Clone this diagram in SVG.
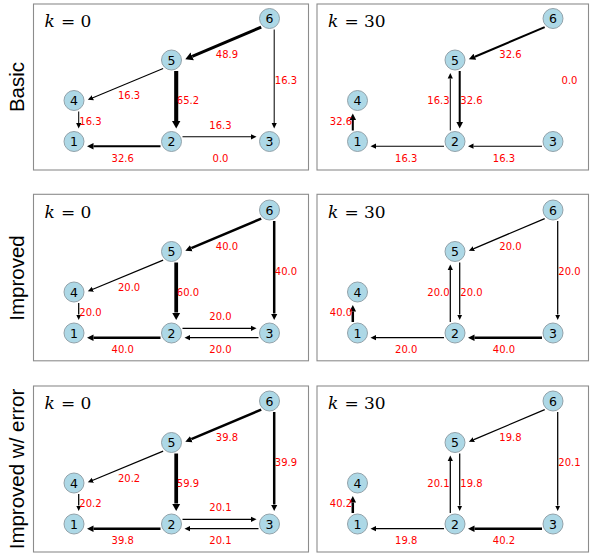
<svg xmlns="http://www.w3.org/2000/svg" width="590" height="556" viewBox="0 0 590 556">
<style>
.frame{fill:#fff;stroke:#8c8c8c;stroke-width:1.1}
.e{stroke:#000;fill:none;stroke-linecap:butt}
.lbl{font-family:"DejaVu Sans",sans-serif;font-size:10px;fill:#ff0000;text-anchor:middle}
.node circle{fill:#add8e6;stroke:#8a9aa2;stroke-width:0.9}
.node text{font-family:"DejaVu Sans",sans-serif;font-size:12.5px;fill:#000;text-anchor:middle}
.k{font-family:"DejaVu Serif",serif;font-size:17px;fill:#000}
.row{font-family:"Liberation Sans",Arial,sans-serif;font-size:20.5px;fill:#000;text-anchor:middle}
</style>
<defs>
<marker id="a1" markerUnits="userSpaceOnUse" viewBox="0 -5 10 10" markerWidth="10" markerHeight="10" refX="0" refY="0" orient="auto"><path d="M0,-2.6 L5.5,0 L0,2.6 Z" fill="#000"/></marker>
<marker id="a2" markerUnits="userSpaceOnUse" viewBox="0 -5 10 10" markerWidth="10" markerHeight="10" refX="0" refY="0" orient="auto"><path d="M0,-3.3 L6.5,0 L0,3.3 Z" fill="#000"/></marker>
<marker id="a3" markerUnits="userSpaceOnUse" viewBox="0 -5 10 10" markerWidth="10" markerHeight="10" refX="0" refY="0" orient="auto"><path d="M0,-4.2 L7.5,0 L0,4.2 Z" fill="#000"/></marker>
</defs>
<rect width="590" height="556" fill="#fff"/>

<text class="row" transform="translate(24,87) rotate(-90)">Basic</text>
<text class="row" transform="translate(24,278) rotate(-90)">Improved</text>
<text class="row" transform="translate(24,469) rotate(-90)">Improved w/ error</text>

<!-- Row 1 left: Basic k=0 -->
<g id="basic-k0" transform="translate(0,0)">
<rect class="frame" x="33.5" y="4" width="275" height="166"/>
<text class="k" x="44.5" y="26.5"><tspan font-style="italic">k</tspan><tspan x="61">=</tspan><tspan x="80.5">0</tspan></text>
<g id="basic-k0-edges">
<line class="e" x1="261.2" y1="27.1" x2="192.21" y2="56.34" stroke-width="3.06" marker-end="url(#a3)"/>
<line class="e" x1="274.2" y1="29.5" x2="274.2" y2="123" stroke-width="1.02" marker-end="url(#a1)"/>
<line class="e" x1="163.14" y1="68.56" x2="92.89" y2="97.74" stroke-width="1.02" marker-end="url(#a1)"/>
<line class="e" x1="176.2" y1="71" x2="176.2" y2="121" stroke-width="4.08" marker-end="url(#a3)"/>
<line class="e" x1="78.7" y1="111.5" x2="78.7" y2="123" stroke-width="1.02" marker-end="url(#a1)"/>
<line class="e" x1="182.5" y1="136.8" x2="251" y2="136.8" stroke-width="1.02" marker-end="url(#a1)"/>
<line class="e" x1="160.5" y1="146.2" x2="93.5" y2="146.2" stroke-width="2.04" marker-end="url(#a2)"/>
<text class="lbl" x="226.9" y="58">48.9</text>
<text class="lbl" x="286" y="83.6">16.3</text>
<text class="lbl" x="129.1" y="99.1">16.3</text>
<text class="lbl" x="188" y="104.3">65.2</text>
<text class="lbl" x="90.5" y="124.6">16.3</text>
<text class="lbl" x="220.5" y="128.6">16.3</text>
<text class="lbl" x="122.75" y="161.6">32.6</text>
<text class="lbl" x="220.5" y="161.6">0.0</text>
</g>
<g id="basic-k0-n1" class="node"><circle cx="74" cy="141.5" r="10"/><text x="74" y="146">1</text></g>
<g id="basic-k0-n2" class="node"><circle cx="171.5" cy="141.5" r="10"/><text x="171.5" y="146">2</text></g>
<g id="basic-k0-n3" class="node"><circle cx="269.5" cy="141.5" r="10"/><text x="269.5" y="146">3</text></g>
<g id="basic-k0-n4" class="node"><circle cx="74" cy="100.5" r="10"/><text x="74" y="105">4</text></g>
<g id="basic-k0-n5" class="node"><circle cx="171.5" cy="60" r="10"/><text x="171.5" y="64.5">5</text></g>
<g id="basic-k0-n6" class="node"><circle cx="269.5" cy="18.5" r="10"/><text x="269.5" y="23">6</text></g>
</g>

<!-- Row 1 right: Basic k=30 -->
<g id="basic-k30" transform="translate(283.5,0)">
<rect class="frame" x="33.5" y="4" width="271.5" height="166"/>
<text class="k" x="44.5" y="26.5"><tspan font-style="italic">k</tspan><tspan x="61">=</tspan><tspan x="80.5">30</tspan></text>
<g id="basic-k30-edges">
<line class="e" x1="261.2" y1="27.1" x2="191.29" y2="56.72" stroke-width="2.04" marker-end="url(#a2)"/>
<line class="e" x1="166.8" y1="130.5" x2="166.8" y2="78.5" stroke-width="1.02" marker-end="url(#a1)"/>
<line class="e" x1="176.2" y1="71" x2="176.2" y2="122" stroke-width="2.04" marker-end="url(#a2)"/>
<line class="e" x1="69.3" y1="130.5" x2="69.3" y2="120" stroke-width="2.04" marker-end="url(#a2)"/>
<line class="e" x1="160.5" y1="146.2" x2="92.5" y2="146.2" stroke-width="1.02" marker-end="url(#a1)"/>
<line class="e" x1="258.5" y1="146.2" x2="190" y2="146.2" stroke-width="1.02" marker-end="url(#a1)"/>
<text class="lbl" x="226.9" y="58">32.6</text>
<text class="lbl" x="286" y="83.6">0.0</text>
<text class="lbl" x="155" y="104.3">16.3</text>
<text class="lbl" x="188" y="104.3">32.6</text>
<text class="lbl" x="57.5" y="124.6">32.6</text>
<text class="lbl" x="122.75" y="161.6">16.3</text>
<text class="lbl" x="220.5" y="161.6">16.3</text>
</g>
<g id="basic-k30-n1" class="node"><circle cx="74" cy="141.5" r="10"/><text x="74" y="146">1</text></g>
<g id="basic-k30-n2" class="node"><circle cx="171.5" cy="141.5" r="10"/><text x="171.5" y="146">2</text></g>
<g id="basic-k30-n3" class="node"><circle cx="269.5" cy="141.5" r="10"/><text x="269.5" y="146">3</text></g>
<g id="basic-k30-n4" class="node"><circle cx="74" cy="100.5" r="10"/><text x="74" y="105">4</text></g>
<g id="basic-k30-n5" class="node"><circle cx="171.5" cy="60" r="10"/><text x="171.5" y="64.5">5</text></g>
<g id="basic-k30-n6" class="node"><circle cx="269.5" cy="18.5" r="10"/><text x="269.5" y="23">6</text></g>
</g>

<!-- Row 2 left: Improved k=0 -->
<g id="improved-k0" transform="translate(0,191.5)">
<rect class="frame" x="33.5" y="2.8" width="275" height="166.5"/>
<text class="k" x="44.5" y="26"><tspan font-style="italic">k</tspan><tspan x="61">=</tspan><tspan x="80.5">0</tspan></text>
<g id="improved-k0-edges">
<line class="e" x1="261.2" y1="27.1" x2="191.29" y2="56.72" stroke-width="2.5" marker-end="url(#a2)"/>
<line class="e" x1="274.2" y1="29.5" x2="274.2" y2="122" stroke-width="2.5" marker-end="url(#a2)"/>
<line class="e" x1="163.14" y1="68.56" x2="92.89" y2="97.74" stroke-width="1.25" marker-end="url(#a1)"/>
<line class="e" x1="176.2" y1="71" x2="176.2" y2="121" stroke-width="3.75" marker-end="url(#a3)"/>
<line class="e" x1="78.7" y1="111.5" x2="78.7" y2="123" stroke-width="1.25" marker-end="url(#a1)"/>
<line class="e" x1="182.5" y1="136.8" x2="251" y2="136.8" stroke-width="1.25" marker-end="url(#a1)"/>
<line class="e" x1="258.5" y1="146.2" x2="190" y2="146.2" stroke-width="1.25" marker-end="url(#a1)"/>
<line class="e" x1="160.5" y1="146.2" x2="93.5" y2="146.2" stroke-width="2.5" marker-end="url(#a2)"/>
<text class="lbl" x="226.9" y="58">40.0</text>
<text class="lbl" x="286" y="83.6">40.0</text>
<text class="lbl" x="129.1" y="99.1">20.0</text>
<text class="lbl" x="188" y="104.3">60.0</text>
<text class="lbl" x="90.5" y="124.6">20.0</text>
<text class="lbl" x="220.5" y="128.6">20.0</text>
<text class="lbl" x="220.5" y="161.6">20.0</text>
<text class="lbl" x="122.75" y="161.6">40.0</text>
</g>
<g id="improved-k0-n1" class="node"><circle cx="74" cy="141.5" r="10"/><text x="74" y="146">1</text></g>
<g id="improved-k0-n2" class="node"><circle cx="171.5" cy="141.5" r="10"/><text x="171.5" y="146">2</text></g>
<g id="improved-k0-n3" class="node"><circle cx="269.5" cy="141.5" r="10"/><text x="269.5" y="146">3</text></g>
<g id="improved-k0-n4" class="node"><circle cx="74" cy="100.5" r="10"/><text x="74" y="105">4</text></g>
<g id="improved-k0-n5" class="node"><circle cx="171.5" cy="60" r="10"/><text x="171.5" y="64.5">5</text></g>
<g id="improved-k0-n6" class="node"><circle cx="269.5" cy="18.5" r="10"/><text x="269.5" y="23">6</text></g>
</g>

<!-- Row 2 right: Improved k=30 -->
<g id="improved-k30" transform="translate(283.5,191.5)">
<rect class="frame" x="33.5" y="2.8" width="271.5" height="166.5"/>
<text class="k" x="44.5" y="26"><tspan font-style="italic">k</tspan><tspan x="61">=</tspan><tspan x="80.5">30</tspan></text>
<g id="improved-k30-edges">
<line class="e" x1="261.2" y1="27.1" x2="190.37" y2="57.11" stroke-width="1.25" marker-end="url(#a1)"/>
<line class="e" x1="274.2" y1="29.5" x2="274.2" y2="123" stroke-width="1.25" marker-end="url(#a1)"/>
<line class="e" x1="166.8" y1="130.5" x2="166.8" y2="78.5" stroke-width="1.25" marker-end="url(#a1)"/>
<line class="e" x1="176.2" y1="71" x2="176.2" y2="123" stroke-width="1.25" marker-end="url(#a1)"/>
<line class="e" x1="69.3" y1="130.5" x2="69.3" y2="120" stroke-width="2.5" marker-end="url(#a2)"/>
<line class="e" x1="160.5" y1="146.2" x2="92.5" y2="146.2" stroke-width="1.25" marker-end="url(#a1)"/>
<line class="e" x1="258.5" y1="146.2" x2="191" y2="146.2" stroke-width="2.5" marker-end="url(#a2)"/>
<text class="lbl" x="226.9" y="58">20.0</text>
<text class="lbl" x="286" y="83.6">20.0</text>
<text class="lbl" x="155" y="104.3">20.0</text>
<text class="lbl" x="188" y="104.3">20.0</text>
<text class="lbl" x="57.5" y="124.6">40.0</text>
<text class="lbl" x="122.75" y="161.6">20.0</text>
<text class="lbl" x="220.5" y="161.6">40.0</text>
</g>
<g id="improved-k30-n1" class="node"><circle cx="74" cy="141.5" r="10"/><text x="74" y="146">1</text></g>
<g id="improved-k30-n2" class="node"><circle cx="171.5" cy="141.5" r="10"/><text x="171.5" y="146">2</text></g>
<g id="improved-k30-n3" class="node"><circle cx="269.5" cy="141.5" r="10"/><text x="269.5" y="146">3</text></g>
<g id="improved-k30-n4" class="node"><circle cx="74" cy="100.5" r="10"/><text x="74" y="105">4</text></g>
<g id="improved-k30-n5" class="node"><circle cx="171.5" cy="60" r="10"/><text x="171.5" y="64.5">5</text></g>
<g id="improved-k30-n6" class="node"><circle cx="269.5" cy="18.5" r="10"/><text x="269.5" y="23">6</text></g>
</g>

<!-- Row 3 left: Improved w/ error k=0 -->
<g id="error-k0" transform="translate(0,382.5)">
<rect class="frame" x="33.5" y="3.5" width="275" height="166"/>
<text class="k" x="44.5" y="26.5"><tspan font-style="italic">k</tspan><tspan x="61">=</tspan><tspan x="80.5">0</tspan></text>
<g id="error-k0-edges">
<line class="e" x1="261.2" y1="27.1" x2="191.29" y2="56.72" stroke-width="2.49" marker-end="url(#a2)"/>
<line class="e" x1="274.2" y1="29.5" x2="274.2" y2="122" stroke-width="2.49" marker-end="url(#a2)"/>
<line class="e" x1="163.14" y1="68.56" x2="92.89" y2="97.74" stroke-width="1.26" marker-end="url(#a1)"/>
<line class="e" x1="176.2" y1="71" x2="176.2" y2="121" stroke-width="3.74" marker-end="url(#a3)"/>
<line class="e" x1="78.7" y1="111.5" x2="78.7" y2="123" stroke-width="1.26" marker-end="url(#a1)"/>
<line class="e" x1="182.5" y1="136.8" x2="251" y2="136.8" stroke-width="1.26" marker-end="url(#a1)"/>
<line class="e" x1="258.5" y1="146.2" x2="190" y2="146.2" stroke-width="1.26" marker-end="url(#a1)"/>
<line class="e" x1="160.5" y1="146.2" x2="93.5" y2="146.2" stroke-width="2.49" marker-end="url(#a2)"/>
<text class="lbl" x="226.9" y="58">39.8</text>
<text class="lbl" x="286" y="83.6">39.9</text>
<text class="lbl" x="129.1" y="99.1">20.2</text>
<text class="lbl" x="188" y="104.3">59.9</text>
<text class="lbl" x="90.5" y="124.6">20.2</text>
<text class="lbl" x="220.5" y="128.6">20.1</text>
<text class="lbl" x="220.5" y="161.6">20.1</text>
<text class="lbl" x="122.75" y="161.6">39.8</text>
</g>
<g id="error-k0-n1" class="node"><circle cx="74" cy="141.5" r="10"/><text x="74" y="146">1</text></g>
<g id="error-k0-n2" class="node"><circle cx="171.5" cy="141.5" r="10"/><text x="171.5" y="146">2</text></g>
<g id="error-k0-n3" class="node"><circle cx="269.5" cy="141.5" r="10"/><text x="269.5" y="146">3</text></g>
<g id="error-k0-n4" class="node"><circle cx="74" cy="100.5" r="10"/><text x="74" y="105">4</text></g>
<g id="error-k0-n5" class="node"><circle cx="171.5" cy="60" r="10"/><text x="171.5" y="64.5">5</text></g>
<g id="error-k0-n6" class="node"><circle cx="269.5" cy="18.5" r="10"/><text x="269.5" y="23">6</text></g>
</g>

<!-- Row 3 right: Improved w/ error k=30 -->
<g id="error-k30" transform="translate(283.5,382.5)">
<rect class="frame" x="33.5" y="3.5" width="271.5" height="166"/>
<text class="k" x="44.5" y="26.5"><tspan font-style="italic">k</tspan><tspan x="61">=</tspan><tspan x="80.5">30</tspan></text>
<g id="error-k30-edges">
<line class="e" x1="261.2" y1="27.1" x2="190.37" y2="57.11" stroke-width="1.24" marker-end="url(#a1)"/>
<line class="e" x1="274.2" y1="29.5" x2="274.2" y2="123" stroke-width="1.26" marker-end="url(#a1)"/>
<line class="e" x1="166.8" y1="130.5" x2="166.8" y2="78.5" stroke-width="1.26" marker-end="url(#a1)"/>
<line class="e" x1="176.2" y1="71" x2="176.2" y2="123" stroke-width="1.24" marker-end="url(#a1)"/>
<line class="e" x1="69.3" y1="130.5" x2="69.3" y2="120" stroke-width="2.51" marker-end="url(#a2)"/>
<line class="e" x1="160.5" y1="146.2" x2="92.5" y2="146.2" stroke-width="1.24" marker-end="url(#a1)"/>
<line class="e" x1="258.5" y1="146.2" x2="191" y2="146.2" stroke-width="2.51" marker-end="url(#a2)"/>
<text class="lbl" x="226.9" y="58">19.8</text>
<text class="lbl" x="286" y="83.6">20.1</text>
<text class="lbl" x="155" y="104.3">20.1</text>
<text class="lbl" x="188" y="104.3">19.8</text>
<text class="lbl" x="57.5" y="124.6">40.2</text>
<text class="lbl" x="122.75" y="161.6">19.8</text>
<text class="lbl" x="220.5" y="161.6">40.2</text>
</g>
<g id="error-k30-n1" class="node"><circle cx="74" cy="141.5" r="10"/><text x="74" y="146">1</text></g>
<g id="error-k30-n2" class="node"><circle cx="171.5" cy="141.5" r="10"/><text x="171.5" y="146">2</text></g>
<g id="error-k30-n3" class="node"><circle cx="269.5" cy="141.5" r="10"/><text x="269.5" y="146">3</text></g>
<g id="error-k30-n4" class="node"><circle cx="74" cy="100.5" r="10"/><text x="74" y="105">4</text></g>
<g id="error-k30-n5" class="node"><circle cx="171.5" cy="60" r="10"/><text x="171.5" y="64.5">5</text></g>
<g id="error-k30-n6" class="node"><circle cx="269.5" cy="18.5" r="10"/><text x="269.5" y="23">6</text></g>
</g>
</svg>
